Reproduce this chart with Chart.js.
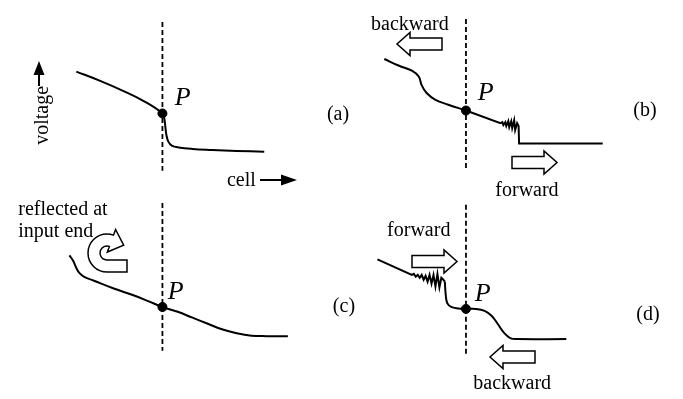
<!DOCTYPE html>
<html>
<head>
<meta charset="utf-8">
<script src="https://cdn.jsdelivr.net/npm/chart.js@4"></script>
<style>
  html, body { margin: 0; padding: 0; background: #fff; }
  #fig { display: block; }
</style>
</head>
<body>
<canvas id="fig" width="683" height="399"></canvas>
<script>
// Voltage profiles along the cell string, four cases (a)-(d)
// (x = cell position, y = voltage drawn downwards, in figure units)

// (a) steep drop right after P
const curveA_x = [72, 95, 120, 140, 159.5, 161.5, 162.5, 163.5, 165.5, 169, 176, 190, 210, 235, 263];
const curveA_y = [68, 77, 88, 98, 111, 117, 125, 133, 140, 144, 146, 147.5, 148.5, 149.5, 150.5];

// (b) backward step on the left, forward ringing front on the right
const curveB_x = [385, 400, 413, 420, 423, 428, 437, 450, 468];
const curveB_y = [55, 62, 67, 73, 82, 90, 97, 102, 108];
const frontB_x = [468, 503, 505, 506, 508, 509, 511, 512, 514, 515, 517, 518, 520, 521.5, 522, 607];
const frontB_y = [108, 121, 120, 123, 120, 124, 119, 125, 119, 126, 118, 128, 121, 124, 142, 142];

// (c) reflected at the input end
const curveC_x = [65, 69, 72, 75, 80, 90, 110, 130, 145, 159.5, 175, 190, 205, 220, 235, 250, 265, 287];
const curveC_y = [257, 263, 270, 275, 279, 283, 291, 298, 304, 310, 315, 321, 327, 333, 337, 339.5, 340, 340];

// (d) forward ringing front on the left, backward step on the right
const frontD_x = [378, 413, 415, 417, 419, 421, 423, 425, 427, 429, 431, 433, 435, 437, 439, 441, 443, 445, 446.5];
const frontD_y = [261, 277, 276, 279, 277, 280, 277, 282, 278, 284, 277, 286, 277, 289, 276, 290, 280, 282, 284];
const curveD_x = [446.5, 447.5, 449, 453, 460, 468, 478, 487, 494, 500, 507, 513, 520, 570];
const curveD_y = [284, 298, 306, 310, 311.5, 312, 312, 314, 319, 327, 337, 342, 343, 343];

// observation line through P in each panel
const markerX = [159.5, 468, 159.5, 468];
const markerTop = [17, 14, 203, 205];
const markerBottom = [170, 168, 355, 358];
const pointP_y = [111, 108, 310, 312];

const FONT = '"Liberation Serif", "Times New Roman", serif';

function pts(xs, ys) {
  return xs.map((x, i) => ({ x: x, y: ys[i] }));
}

function curve(xs, ys, tension) {
  return {
    data: pts(xs, ys),
    showLine: true,
    borderColor: '#000',
    borderWidth: 2,
    pointRadius: 0,
    tension: tension,
    fill: false
  };
}

const datasets = [
  curve(curveA_x, curveA_y, 0.4),
  curve(curveB_x, curveB_y, 0.4),
  curve(frontB_x, frontB_y, 0),
  curve(curveC_x, curveC_y, 0.4),
  curve(frontD_x, frontD_y, 0),
  curve(curveD_x, curveD_y, 0.4)
];

markerX.forEach((x, i) => {
  datasets.push({
    data: [{ x: x, y: markerTop[i] }, { x: x, y: markerBottom[i] }],
    showLine: true,
    borderColor: '#000',
    borderWidth: 1.8,
    borderDash: [5, 3],
    pointRadius: 0
  });
});

datasets.push({
  data: pts(markerX, pointP_y),
  showLine: false,
  pointRadius: 4.5,
  pointBackgroundColor: '#000',
  pointBorderColor: '#000'
});

// labels and hollow arrows drawn on top of the plot
const textLabels = [
  { t: '(a)', x: 338, y: 112 },
  { t: '(b)', x: 650, y: 108 },
  { t: '(c)', x: 344, y: 310 },
  { t: '(d)', x: 653, y: 318 },
  { t: 'backward', x: 411, y: 20 },
  { t: 'forward', x: 530, y: 190 },
  { t: 'forward', x: 420, y: 232 },
  { t: 'backward', x: 515, y: 389 },
  { t: 'reflected at', x: 13, y: 210, align: 'left' },
  { t: 'input end', x: 13, y: 233, align: 'left' },
  { t: 'cell', x: 225, y: 180, align: 'left' }
];
const pLabels = [[180, 95], [488, 90], [173, 295], [485, 297]];
const blockArrows = [
  { tail: 442, tip: 397, y: 44 },
  { tail: 512, tip: 557, y: 162.5 },
  { tail: 412, tip: 457, y: 261.5 },
  { tail: 535, tip: 490, y: 357 }
];

function blockArrow(ctx, tail, tip, cy) {
  const dir = tip > tail ? 1 : -1;
  const base = tip - dir * 13;
  ctx.beginPath();
  ctx.moveTo(tail, cy - 6);
  ctx.lineTo(base, cy - 6);
  ctx.lineTo(base, cy - 11.5);
  ctx.lineTo(tip, cy);
  ctx.lineTo(base, cy + 11.5);
  ctx.lineTo(base, cy + 6);
  ctx.lineTo(tail, cy + 6);
  ctx.closePath();
  ctx.fillStyle = '#fff';
  ctx.fill();
  ctx.stroke();
}

function uTurnArrow(ctx) {
  const cx = 107, cy = 253, rOut = 19, rIn = 7;
  const end = -Math.PI / 2 + 0.35;
  ctx.beginPath();
  ctx.moveTo(127, cy + rOut);
  ctx.lineTo(cx, cy + rOut);
  ctx.arc(cx, cy, rOut, Math.PI / 2, end + 2 * Math.PI, false);
  // arrow head
  const hx = cx + Math.cos(end) * ((rOut + rIn) / 2);
  const hy = cy + Math.sin(end) * ((rOut + rIn) / 2);
  const tx = Math.cos(end + Math.PI / 2), ty = Math.sin(end + Math.PI / 2);
  const nx = Math.cos(end), ny = Math.sin(end);
  ctx.lineTo(hx + nx * 12, hy + ny * 12);
  ctx.lineTo(hx + tx * 13, hy + ty * 13);
  ctx.lineTo(hx - nx * 12, hy - ny * 12);
  ctx.arc(cx, cy, rIn, end + 2 * Math.PI, Math.PI / 2, true);
  ctx.lineTo(127, cy + rIn);
  ctx.closePath();
  ctx.fillStyle = '#fff';
  ctx.fill();
  ctx.stroke();
}

const annotations = {
  id: 'annotations',
  afterDatasetsDraw(chart) {
    const ctx = chart.ctx;
    const sx = chart.scales.x, sy = chart.scales.y;
    ctx.save();
    ctx.fillStyle = '#000';
    ctx.textBaseline = 'middle';
    ctx.font = '20px ' + FONT;
    textLabels.forEach(l => {
      ctx.textAlign = l.align || 'center';
      ctx.fillText(l.t, sx.getPixelForValue(l.x), sy.getPixelForValue(l.y));
    });

    ctx.font = 'italic 26px ' + FONT;
    ctx.textAlign = 'center';
    pLabels.forEach(p => ctx.fillText('P', sx.getPixelForValue(p[0]), sy.getPixelForValue(p[1])));

    // axis hints in panel (a)
    ctx.save();
    ctx.translate(sx.getPixelForValue(38), sy.getPixelForValue(113));
    ctx.rotate(-Math.PI / 2);
    ctx.font = '20px ' + FONT;
    ctx.fillText('voltage', 0, 0);
    ctx.restore();

    ctx.strokeStyle = '#000';
    ctx.lineWidth = 2;
    ctx.beginPath();
    ctx.moveTo(39, 86); ctx.lineTo(39, 72);
    ctx.moveTo(260, 180); ctx.lineTo(284, 180);
    ctx.stroke();
    ctx.beginPath();
    ctx.moveTo(39, 61); ctx.lineTo(33.5, 75); ctx.lineTo(44.5, 75); ctx.closePath();
    ctx.moveTo(297, 180); ctx.lineTo(281, 174.5); ctx.lineTo(281, 185.5); ctx.closePath();
    ctx.fill();

    ctx.lineWidth = 1.5;
    ctx.lineJoin = 'miter';
    blockArrows.forEach(a => blockArrow(ctx, a.tail, a.tip, a.y));
    uTurnArrow(ctx);
    ctx.restore();
  }
};

new Chart(document.getElementById('fig'), {
  type: 'scatter',
  data: { datasets: datasets },
  options: {
    responsive: false,
    animation: false,
    layout: { padding: 0 },
    plugins: { legend: { display: false }, tooltip: { enabled: false } },
    scales: {
      x: { type: 'linear', min: 0, max: 683, display: false },
      y: { type: 'linear', min: 0, max: 399, reverse: true, display: false }
    }
  },
  plugins: [annotations]
});
</script>
</body>
</html>
